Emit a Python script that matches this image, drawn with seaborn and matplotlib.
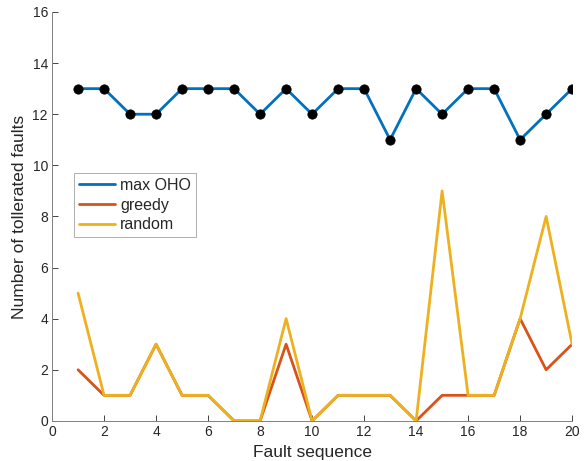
import matplotlib
matplotlib.use("Agg")
import matplotlib.pyplot as plt
import seaborn as sns
import pandas as pd

fault_seq = list(range(1, 21))
max_oho = [13, 13, 12, 12, 13, 13, 13, 12, 13, 12, 13, 13, 11, 13, 12, 13, 13, 11, 12, 13]
greedy = [2, 1, 1, 3, 1, 1, 0, 0, 3, 0, 1, 1, 1, 0, 1, 1, 1, 4, 2, 3]
random_ = [5, 1, 1, 3, 1, 1, 0, 0, 4, 0, 1, 1, 1, 0, 9, 1, 1, 4, 8, 3]
x_ticks = [0, 2, 4, 6, 8, 10, 12, 14, 16, 18, 20]
y_ticks = [0, 2, 4, 6, 8, 10, 12, 14, 16]

sns.set_style("white")
plt.rcParams['font.family'] = ['Liberation Sans', 'DejaVu Sans']

fig = plt.figure(figsize=(5.85, 4.61), dpi=100)
ax = fig.add_axes([0.089, 0.087, 0.889, 0.887])

df = pd.DataFrame({"x": fault_seq, "max OHO": max_oho, "greedy": greedy, "random": random_})

sns.lineplot(data=df, x="x", y="max OHO", ax=ax, color="#0072BD", lw=2, label="max OHO")
sns.lineplot(data=df, x="x", y="greedy", ax=ax, color="#D95319", lw=2, label="greedy")
sns.lineplot(data=df, x="x", y="random", ax=ax, color="#EDB120", lw=2, label="random")
sns.scatterplot(data=df, x="x", y="max OHO", ax=ax, color="black", s=45, zorder=5, edgecolor="black", legend=False)

ax.set_xlim(0, 20)
ax.set_ylim(0, 16)
ax.set_xticks(x_ticks)
ax.set_yticks(y_ticks)
ax.set_xlabel("Fault sequence", fontsize=12.5, color="#262626", labelpad=4)
ax.set_ylabel("Number of tollerated faults", fontsize=12.5, color="#262626", labelpad=4)
ax.tick_params(axis="both", direction="in", length=4, width=0.6, colors="#262626", labelsize=10, pad=3, bottom=True, left=True)
for s in ["top", "right"]:
    ax.spines[s].set_visible(False)
for s in ["left", "bottom"]:
    ax.spines[s].set_color("#808080")
    ax.spines[s].set_linewidth(0.7)

leg = ax.legend(loc="upper left", bbox_to_anchor=(0.042, 0.606), fontsize=11.5, frameon=True,
                fancybox=False, borderpad=0.3, labelspacing=0.3, handlelength=2.3,
                handletextpad=0.3, borderaxespad=0)
leg.get_frame().set_edgecolor("#9a9a9a")
leg.get_frame().set_linewidth(0.7)

fig.savefig("out.png", dpi=100)
